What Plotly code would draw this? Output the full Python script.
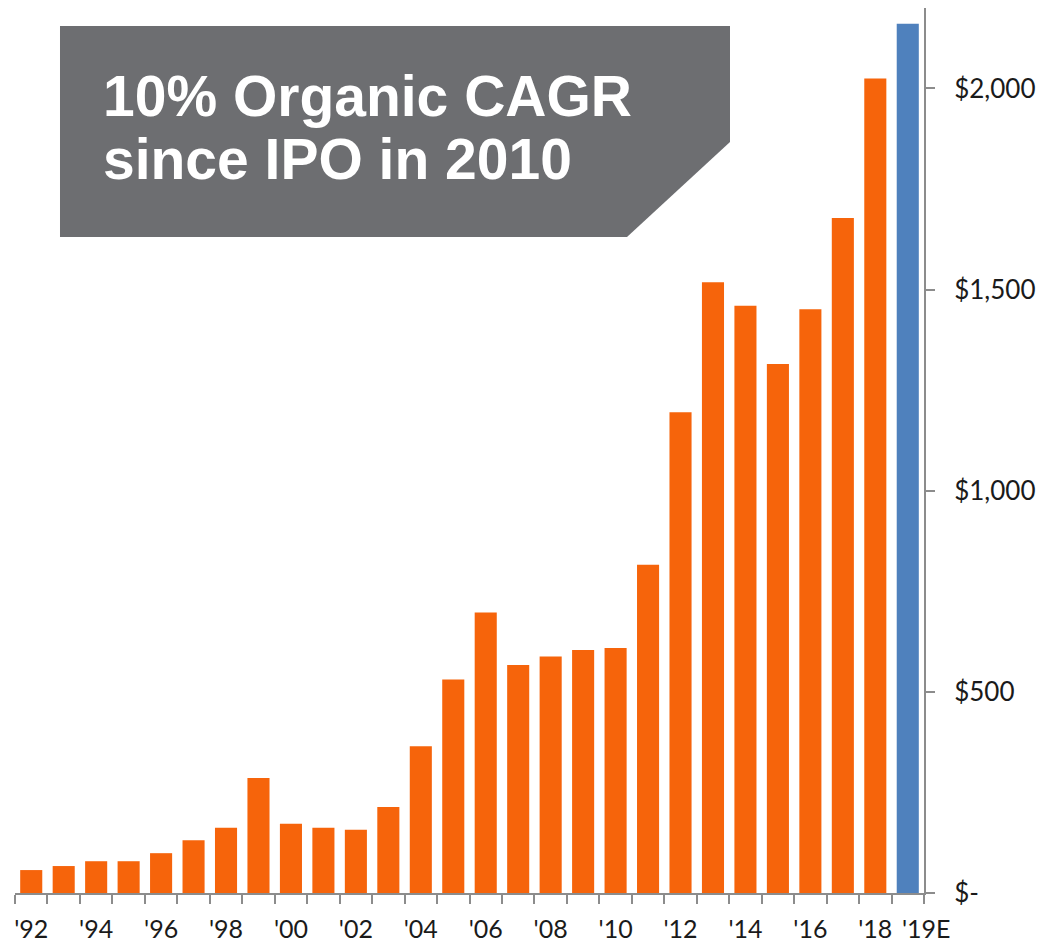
import plotly.graph_objects as go

# datos
years = ["'92", "'93", "'94", "'95", "'96", "'97", "'98", "'99", "'00", "'01",
         "'02", "'03", "'04", "'05", "'06", "'07", "'08", "'09", "'10", "'11",
         "'12", "'13", "'14", "'15", "'16", "'17", "'18", "'19E"]
revenue = [57, 67, 79, 79, 99, 131, 162, 286, 172, 162,
           157, 214, 365, 531, 697, 567, 588, 604, 609, 816,
           1195, 1518, 1460, 1315, 1451, 1678, 2025, 2161]
tick_labels = ["'92", "", "'94", "", "'96", "", "'98", "", "'00", "",
               "'02", "", "'04", "", "'06", "", "'08", "", "'10", "",
               "'12", "", "'14", "", "'16", "", "'18", ""]
last_label = "'19E"
y_ticks = [0, 500, 1000, 1500, 2000]
y_tick_text = ["$-", "$500", "$1,000", "$1,500", "$2,000"]
title_lines = ["10% Organic CAGR", "since IPO in 2010"]

ORANGE = "#F6640B"
BLUE = "#4F81BD"
GRAY_BOX = "#6D6E71"
AXIS = "#8C8C8C"

# la pagina deja 8px de margen en el body
OFF = 8
W, H = 1046 - OFF, 943 - OFF
L, R, T, B = 15 - OFF, 122, 0, 50


def px(x):
    return (x - OFF - L) / (W - L - R)


def py(y):
    return (H - B - (y - OFF)) / (H - T - B)


colors = [ORANGE] * (len(years) - 1) + [BLUE]

fig = go.Figure()
fig.add_trace(go.Bar(
    x=years, y=revenue,
    marker=dict(color=colors, line=dict(width=0)),
    hovertemplate="%{x}: $%{y:,}<extra></extra>",
))

# recuadro gris con esquina cortada
pts = [(60, 26), (730, 26), (730, 142), (627, 237), (60, 237)]
path = "M " + " L ".join(f"{px(a):.5f},{py(b):.5f}" for a, b in pts) + " Z"
fig.add_shape(type="path", xref="paper", yref="paper", path=path,
              fillcolor=GRAY_BOX, line=dict(width=0), layer="above")

for i, line in enumerate(title_lines):
    fig.add_annotation(
        x=px(101), y=py(96 + 63 * i), xref="paper", yref="paper",
        xanchor="left", yanchor="middle", showarrow=False, text=line,
        font=dict(family="Liberation Sans", size=57, color="white", weight="bold"),
    )

# etiqueta '19E desplazada a la derecha como en el original
fig.add_annotation(
    x=years[-1], y=py(928), xref="x", yref="paper", xshift=19,
    xanchor="center", yanchor="middle", showarrow=False, text=last_label,
    height=24, borderpad=0,
    font=dict(family="Lato", size=25, color="#1a1a1a"),
)

fig.update_layout(
    width=W, height=H,
    margin=dict(l=L, r=R, t=T, b=B),
    plot_bgcolor="white", paper_bgcolor="white",
    bargap=0.32, showlegend=False,
    font=dict(family="Lato", size=26, color="#1a1a1a"),
    xaxis=dict(
        type="category", range=[-0.5, len(years) - 0.5],
        tickmode="array", tickvals=years, ticktext=tick_labels,
        tickson="boundaries", ticks="outside", ticklen=9, tickwidth=2, tickcolor=AXIS,
        showline=True, linecolor=AXIS, linewidth=2, showgrid=False,
        tickangle=0, automargin=False, ticklabelstandoff=13,
        tickfont=dict(size=25),
    ),
    yaxis=dict(
        side="right", range=[0, 2200], tickvals=y_ticks, ticktext=y_tick_text,
        ticks="outside", ticklen=9, tickwidth=2, tickcolor=AXIS,
        showline=True, linecolor=AXIS, linewidth=2, showgrid=False, zeroline=False,
        automargin=False, ticklabelstandoff=14,
    ),
)

fig.write_html("out.html")
